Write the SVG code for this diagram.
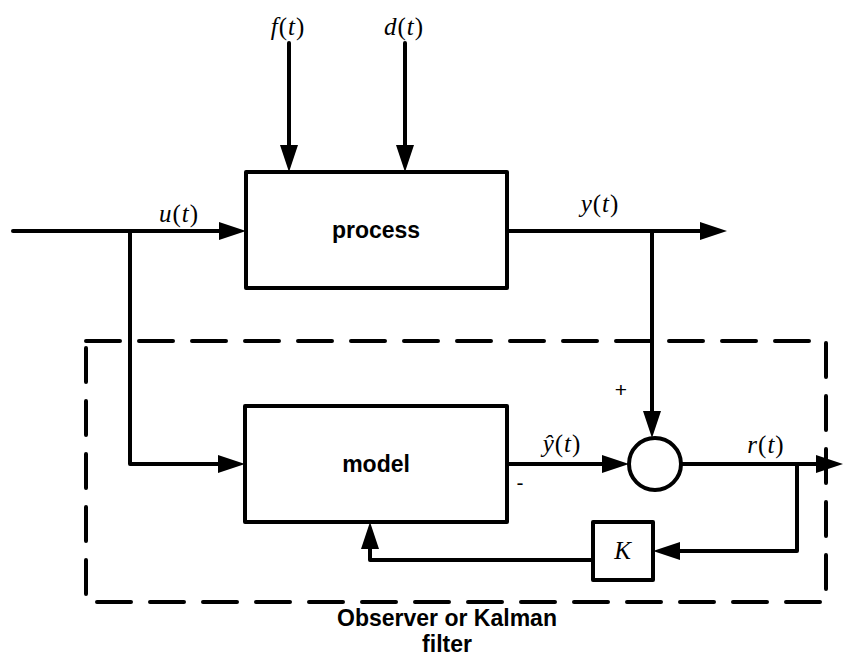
<svg xmlns="http://www.w3.org/2000/svg" width="843" height="664" viewBox="0 0 843 664">
<style>
.blk{fill:#fff;stroke:#000;stroke-width:4;stroke-linejoin:round}
.ln{fill:none;stroke:#000;stroke-width:4;stroke-linecap:round;stroke-linejoin:round}
.dash{fill:none;stroke:#000;stroke-width:4;stroke-dasharray:34 19;stroke-linecap:round}
.lbl{font-family:"Liberation Sans",Arial,sans-serif;font-weight:bold;font-size:23px;text-anchor:middle;fill:#000}
.math{font-family:"Liberation Serif","Times New Roman",serif;font-size:25px;letter-spacing:1px;fill:#000}
.it{font-style:italic}
.sign{font-family:"Liberation Sans",Arial,sans-serif;font-size:21px;fill:#000;text-anchor:middle}
</style>
<defs>
<marker id="ah" viewBox="0 0 27 18" refX="17" refY="9" markerWidth="27" markerHeight="18" markerUnits="userSpaceOnUse" orient="auto">
<path d="M0,0 L27,9 L0,18 z" fill="#000"/>
</marker>
</defs>
<g id="observer-box">
<rect class="dash" x="86" y="341" width="740" height="261"/>
<text class="lbl" x="447" y="626" font-size="23.5">Observer or Kalman</text>
<text class="lbl" x="447" y="652" font-size="23.5">filter</text>
</g>
<g id="connectors">
<path class="ln" d="M289,43 V162" marker-end="url(#ah)"/>
<path class="ln" d="M405,43 V162" marker-end="url(#ah)"/>
<path class="ln" d="M13,231 H236" marker-end="url(#ah)"/>
<path class="ln" d="M130,231 V464 H235" marker-end="url(#ah)"/>
<path class="ln" d="M507,231 H717" marker-end="url(#ah)"/>
<path class="ln" d="M652,231 V428" marker-end="url(#ah)"/>
<path class="ln" d="M507,464 H619" marker-end="url(#ah)"/>
<path class="ln" d="M681,464 H833" marker-end="url(#ah)"/>
<path class="ln" d="M797,464 V551 H663" marker-end="url(#ah)"/>
<path class="ln" d="M593,560 H370 V532" marker-end="url(#ah)"/>
</g>
<g id="process">
<rect class="blk" x="246" y="172" width="261" height="116"/>
<text class="lbl" x="376" y="238">process</text>
</g>
<g id="model">
<rect class="blk" x="245" y="406" width="262" height="116"/>
<text class="lbl" x="376" y="472">model</text>
</g>
<g id="sum">
<circle class="blk" cx="655" cy="464" r="26"/>
</g>
<g id="gain">
<rect class="blk" x="593" y="522" width="60" height="58"/>
<text class="math it" x="623" y="559" text-anchor="middle" font-size="21" letter-spacing="0">K</text>
</g>
<g id="labels">
<text class="math" x="288" y="35" text-anchor="middle"><tspan class="it">f</tspan>(<tspan class="it">t</tspan>)</text>
<text class="math" x="404" y="35" text-anchor="middle"><tspan class="it">d</tspan>(<tspan class="it">t</tspan>)</text>
<text class="math" x="179" y="222" text-anchor="middle"><tspan class="it">u</tspan>(<tspan class="it">t</tspan>)</text>
<text class="math" x="600" y="212" text-anchor="middle"><tspan class="it">y</tspan>(<tspan class="it">t</tspan>)</text>
<text class="math" x="562" y="452" text-anchor="middle"><tspan class="it">ŷ</tspan>(<tspan class="it">t</tspan>)</text>
<text class="math" x="766" y="453" text-anchor="middle"><tspan class="it">r</tspan>(<tspan class="it">t</tspan>)</text>
<text class="sign" x="621" y="397">+</text>
<text class="sign" x="520" y="490">-</text>
</g>
</svg>
